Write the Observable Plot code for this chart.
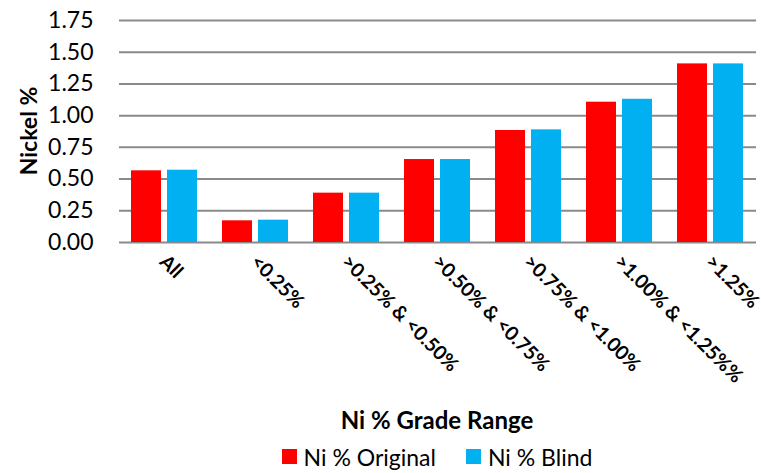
<!DOCTYPE html>
<html>
<head>
<meta charset="utf-8">
<script src="https://cdn.jsdelivr.net/npm/d3@7"></script>
<script src="https://cdn.jsdelivr.net/npm/@observablehq/plot@0.6"></script>
<style>
  html, body { margin: 0; padding: 0; background: #fff; }
  body { width: 761px; height: 473px; overflow: hidden; font-family: Lato, "Open Sans", sans-serif; color: #000; }
  #chart { position: relative; width: 761px; height: 400px; }
  #xtitle { margin-left: 117px; width: 640px; height: 40px; line-height: 40px; text-align: center; font-weight: bold; font-size: 24px; }
  #legend { margin-left: 117px; width: 640px; height: 33px; display: flex; justify-content: center; align-items: center; font-size: 23px; }
  .sw { display: inline-block; width: 15px; height: 15px; margin-right: 7px; }
  .item { display: flex; align-items: center; margin: 0 15px; }
</style>
</head>
<body>
<div id="chart"></div>
<div id="xtitle">Ni % Grade Range</div>
<div id="legend"></div>
<script>
const categories = ["All", "<0.25%", ">0.25% & <0.50%", ">0.50% & <0.75%", ">0.75% & <1.00%", ">1.00% & <1.25%%", ">1.25%"];
const seriesNames = ["Ni % Original", "Ni % Blind"];
const seriesColors = ["#FF0000", "#00B0F0"];
const original = [0.565, 0.171, 0.389, 0.654, 0.883, 1.106, 1.408];
const blind = [0.570, 0.176, 0.389, 0.654, 0.888, 1.129, 1.408];
const yTicks = [0, 0.25, 0.5, 0.75, 1.0, 1.25, 1.5, 1.75];

const data = [];
categories.forEach((c, i) => {
  data.push({cat: c, series: seriesNames[0], value: original[i]});
  data.push({cat: c, series: seriesNames[1], value: blind[i]});
});

const W = 761, H = 400;
const plot = Plot.plot({
  width: W,
  height: H,
  marginLeft: 117,
  marginRight: 4,
  marginTop: 20,
  marginBottom: 158,
  style: {fontFamily: "Lato, 'Open Sans', sans-serif", color: "#000", background: "#fff", overflow: "visible"},
  fx: {domain: categories, padding: 0, label: null},
  x: {domain: seriesNames, paddingInner: 0.16, paddingOuter: 0.316, axis: null},
  y: {domain: [0, 1.75], axis: null},
  color: {domain: seriesNames, range: seriesColors},
  marks: [
    Plot.ruleY(yTicks, {stroke: "#8a8a8a", strokeWidth: 2}),
    Plot.barY(data, {fx: "cat", x: "series", y: "value", fill: "series"}),
    Plot.axisY({ticks: yTicks, tickFormat: d3.format(".2f"), tickSize: 0, tickPadding: 26, fontSize: 23, label: null}),
    Plot.axisFx({anchor: "bottom", tickRotate: 45, tickSize: 0, tickPadding: 16, dx: -2, fontSize: 19.5, fontWeight: "bold", textAnchor: "start", label: null})
  ]
});
document.getElementById("chart").appendChild(plot);

// y axis title
d3.select(plot).append("text")
  .attr("transform", `translate(28, ${(20 + 242) / 2}) rotate(-90)`)
  .attr("text-anchor", "middle")
  .attr("dominant-baseline", "central")
  .attr("font-weight", "bold")
  .attr("font-size", 23)
  .attr("font-family", "Lato, 'Open Sans', sans-serif")
  .text("Nickel %");

const legend = document.getElementById("legend");
seriesNames.forEach((s, i) => {
  const item = document.createElement("span");
  item.className = "item";
  const sw = document.createElement("span");
  sw.className = "sw";
  sw.style.background = seriesColors[i];
  item.appendChild(sw);
  item.appendChild(document.createTextNode(s));
  legend.appendChild(item);
});
</script>
</body>
</html>
